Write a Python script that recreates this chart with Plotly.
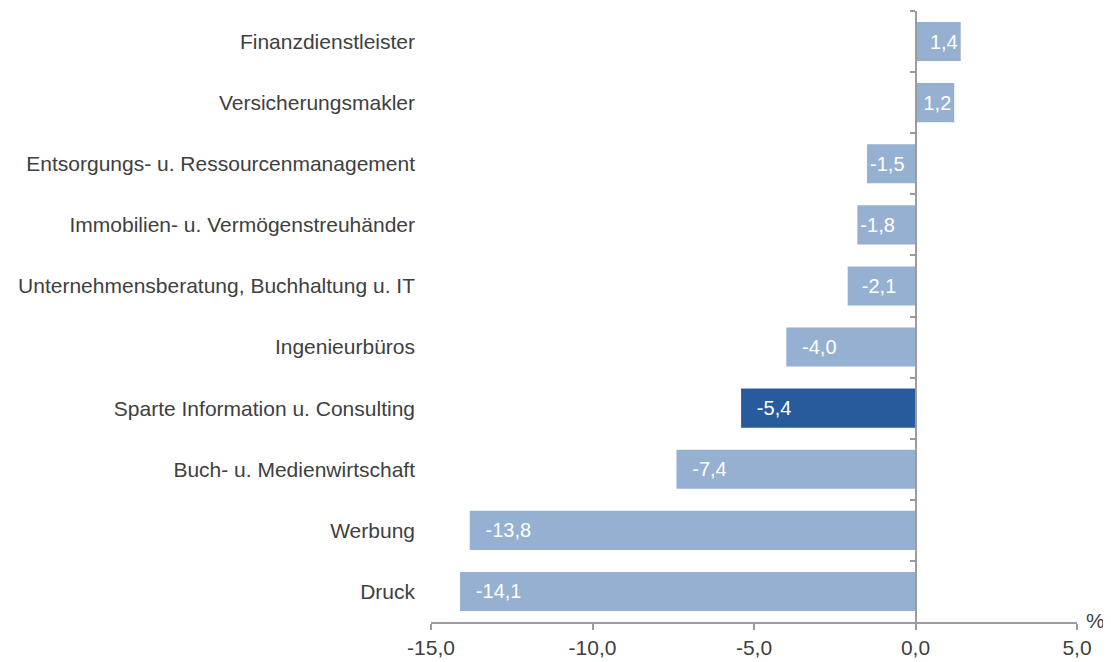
import plotly.graph_objects as go

categories = [
    "Finanzdienstleister",
    "Versicherungsmakler",
    "Entsorgungs- u. Ressourcenmanagement",
    "Immobilien- u. Vermögenstreuhänder",
    "Unternehmensberatung, Buchhaltung u. IT",
    "Ingenieurbüros",
    "Sparte Information u. Consulting",
    "Buch- u. Medienwirtschaft",
    "Werbung",
    "Druck",
]
values = [1.4, 1.2, -1.5, -1.8, -2.1, -4.0, -5.4, -7.4, -13.8, -14.1]
highlight = "Sparte Information u. Consulting"
x_ticks = [-15, -10, -5, 0, 5]

LIGHT = "#95b0d0"
DARK = "#285b9b"
TXT = "#404040"
AX = "#9c9c9c"
FONT = "Liberation Sans, Arial, sans-serif"

colors = [DARK if c == highlight else LIGHT for c in categories]


def fmt(v):
    return f"{v:.1f}".replace(".", ",")


def label(v):
    s = fmt(v)
    if v < 0:
        a = abs(v)
        if a < 2:
            pad = ""
        elif a < 3:
            pad = "\u00a0\u00a0"
        else:
            pad = "\u00a0\u00a0\u200a"
        return pad + s
    return s


texts = [label(v) for v in values]
tick_text = [fmt(t) for t in x_ticks]

fig = go.Figure()
fig.add_trace(go.Bar(
    x=values, y=categories, orientation="h",
    marker=dict(color=colors, line=dict(width=0)),
    text=texts, textposition="inside", insidetextanchor="end",
    constraintext="none",
    textfont=dict(color="white", size=20, family=FONT),
    hoverinfo="skip", showlegend=False,
))
fig.add_trace(go.Scatter(
    x=values, y=categories, yaxis="y2", mode="markers",
    marker=dict(opacity=0), hoverinfo="skip", showlegend=False,
))

n = len(categories)
fig.update_layout(
    width=1103, height=654,
    margin=dict(l=423, r=34, t=3, b=40),
    paper_bgcolor="white", plot_bgcolor="white",
    separators=",.",
    bargap=0.36,
    font=dict(family=FONT, size=21, color=TXT),
    xaxis=dict(
        range=[x_ticks[0], x_ticks[-1]], tickvals=x_ticks, ticktext=tick_text,
        showgrid=False, zeroline=False, automargin=False,
        showline=True, linecolor=AX, linewidth=2,
        ticks="outside", ticklen=6, tickwidth=2, tickcolor=AX,
        tickfont=dict(size=21, color=TXT),
        domain=[0, 1],
    ),
    yaxis=dict(
        type="category", range=[n - 0.5, -0.5], automargin=False,
        showgrid=False, zeroline=False, showline=False,
        ticks="", ticklabelstandoff=15,
        tickfont=dict(size=21, color=TXT),
    ),
    yaxis2=dict(
        type="category", range=[n - 0.5, -0.5], automargin=False,
        overlaying="y", anchor="free",
        position=(0 - x_ticks[0]) / (x_ticks[-1] - x_ticks[0]),
        side="left",
        showgrid=False, zeroline=False,
        showline=True, linecolor=AX, linewidth=2,
        ticks="outside", tickson="boundaries", ticklen=5, tickwidth=2, tickcolor=AX,
        showticklabels=False,
    ),
    annotations=[dict(
        text="%", xref="paper", yref="paper", x=1, y=0,
        xanchor="left", yanchor="middle", xshift=7, yshift=2,
        showarrow=False, font=dict(size=21, color=TXT),
    )],
)

fig.write_html("out.html")
